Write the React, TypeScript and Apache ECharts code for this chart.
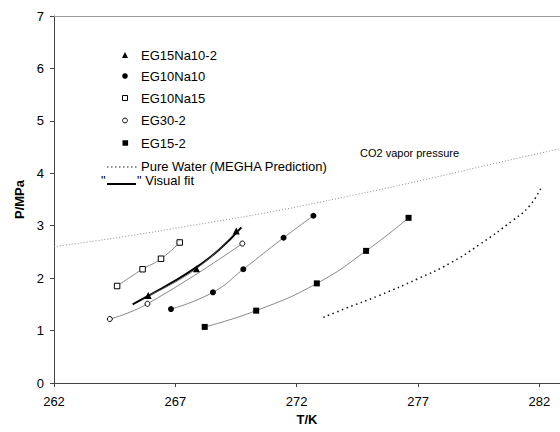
import React, { useEffect, useRef } from "react";
import * as echarts from "echarts";

// ---- data (T/K, P/MPa) ----
const eg15Na10_2: [number, number][] = [[265.88, 1.67], [267.87, 2.18], [269.51, 2.9]];
const eg10Na10: [number, number][] = [[266.82, 1.41], [268.55, 1.73], [269.8, 2.17], [271.46, 2.77], [272.69, 3.19]];
const eg10Na15: [number, number][] = [[264.6, 1.85], [265.65, 2.17], [266.41, 2.37], [267.18, 2.68]];
const eg30_2: [number, number][] = [[264.3, 1.22], [265.85, 1.51], [269.76, 2.66]];
const eg15_2: [number, number][] = [[268.21, 1.07], [270.33, 1.38], [272.83, 1.9], [274.86, 2.52], [276.61, 3.15]];
const pureWater: [number, number][] = [[273.1, 1.25], [274.0, 1.42], [275.4, 1.67], [277.0, 1.99], [278.3, 2.28], [279.5, 2.63], [280.9, 3.1], [281.6, 3.38], [282.1, 3.75]];
const co2Vapor: [number, number][] = [[262, 2.6], [265, 2.8], [268, 3.03], [271, 3.27], [274, 3.55], [277, 3.85], [280, 4.17], [282.85, 4.47]];
const visualFit: [number, number][] = [[265.24, 1.5], [265.88, 1.66], [266.8, 1.9], [267.87, 2.21], [268.8, 2.54], [269.72, 2.97]];

const legendNames = ["EG15Na10-2", "EG10Na10", "EG10Na15", "EG30-2", "EG15-2"];
const xMin = 262, xMax = 282.85, xStep = 5;
const yMin = 0, yMax = 7, yStep = 1;

const FONT = "Liberation Sans, Arial, sans-serif";

export default function App() {
  const ref = useRef<HTMLDivElement>(null);
  useEffect(() => {
    document.body.style.margin = "0";
    const chart = echarts.init(ref.current!, null, { renderer: "svg" });
    const dataLine = (name: string, data: [number, number][], symbol: string, size: number, open: boolean) => ({
      name,
      type: "line",
      data,
      smooth: true,
      symbol,
      symbolSize: size,
      lineStyle: { color: "#6a6a6a", width: 0.8 },
      itemStyle: open
        ? { color: "#fff", borderColor: "#000", borderWidth: 1 }
        : { color: "#000", borderColor: "#000", borderWidth: 0 },
      z: 5,
    });
    const legY = [55, 76, 98, 120.5, 143];
    const legendGraphic: any[] = [
      { type: "polygon", shape: { points: [[125, 52], [128, 58], [122, 58]] }, style: { fill: "#000" } },
      { type: "circle", shape: { cx: 125, cy: legY[1], r: 2.8 }, style: { fill: "#000" } },
      { type: "rect", shape: { x: 122.5, y: legY[2] - 2.5, width: 5, height: 5 }, style: { fill: "#fff", stroke: "#000", lineWidth: 1 } },
      { type: "circle", shape: { cx: 125, cy: legY[3], r: 2.4 }, style: { fill: "#fff", stroke: "#000", lineWidth: 1 } },
      { type: "rect", shape: { x: 122.5, y: legY[4] - 2.8, width: 5.6, height: 5.6 }, style: { fill: "#000" } },
      ...legendNames.map((n, i) => ({
        type: "text", x: 141, y: legY[i],
        style: { text: n, font: `13px ${FONT}`, fill: "#000", verticalAlign: "middle", align: "left" },
      })),
      { type: "line", shape: { x1: 107, y1: 167, x2: 139, y2: 167 }, style: { stroke: "#222", lineWidth: 1.2, lineDash: [1.5, 2.5] } },
      { type: "text", x: 141, y: 166.5, style: { text: "Pure Water (MEGHA Prediction)", font: `13px ${FONT}`, fill: "#000", verticalAlign: "middle" } },
      { type: "text", x: 101, y: 180, style: { text: "\"", font: `13px ${FONT}`, fill: "#000", verticalAlign: "middle" } },
      { type: "line", shape: { x1: 107, y1: 184, x2: 136, y2: 184 }, style: { stroke: "#000", lineWidth: 2 } },
      { type: "text", x: 137, y: 180, style: { text: "\" Visual fit", font: `13px ${FONT}`, fill: "#000", verticalAlign: "middle" } },
      { type: "text", x: 360, y: 153, style: { text: "CO2 vapor pressure", font: `11px ${FONT}`, fill: "#000", verticalAlign: "middle" } },
    ];
    chart.setOption({
      animation: false,
      backgroundColor: "#fff",
      grid: { left: 54, top: 16, right: 0, bottom: 49 },
      xAxis: [
        {
          type: "value", min: xMin, max: xMax, interval: xStep,
          name: "T/K", nameLocation: "middle", nameGap: 28,
          nameTextStyle: { fontFamily: FONT, fontSize: 13, fontWeight: "bold", color: "#000" },
          axisLine: { lineStyle: { color: "#444", width: 1 } },
          axisTick: { length: 4, lineStyle: { color: "#444" } },
          axisLabel: { fontFamily: FONT, fontSize: 13, color: "#000", margin: 12, showMaxLabel: false },
          splitLine: { show: false },
        },
        {
          type: "value", min: xMin, max: xMax, position: "top",
          axisLine: { show: true, lineStyle: { color: "#999", width: 1 } },
          axisTick: { show: false }, axisLabel: { show: false }, splitLine: { show: false },
        },
      ],
      yAxis: {
        type: "value", min: yMin, max: yMax, interval: yStep,
        name: "P/MPa", nameLocation: "middle", nameGap: 23,
        nameTextStyle: { fontFamily: FONT, fontSize: 13, fontWeight: "bold", color: "#000" },
        axisLine: { show: true, lineStyle: { color: "#444", width: 1 } },
        axisTick: { show: true, length: 4, lineStyle: { color: "#444" } },
        axisLabel: { fontFamily: FONT, fontSize: 13, color: "#000", margin: 10 },
        splitLine: { show: false },
      },
      series: [
        {
          name: "CO2 vapor pressure", type: "line", data: co2Vapor, smooth: true, showSymbol: false,
          lineStyle: { color: "#8a8a8a", width: 1, type: [1, 2] }, z: 2,
        },
        {
          name: "Pure Water (MEGHA Prediction)", type: "line", data: pureWater, smooth: true, showSymbol: false,
          lineStyle: { color: "#111", width: 1.5, type: [1.5, 3.5] }, z: 2,
        },
        {
          name: "Visual fit", type: "line", data: visualFit, smooth: true, showSymbol: false,
          lineStyle: { color: "#000", width: 2 }, z: 4,
        },
        dataLine(legendNames[0], eg15Na10_2, "triangle", 7, false),
        dataLine(legendNames[1], eg10Na10, "circle", 6, false),
        dataLine(legendNames[2], eg10Na15, "rect", 5.5, true),
        dataLine(legendNames[3], eg30_2, "circle", 5, true),
        dataLine(legendNames[4], eg15_2, "rect", 6, false),
      ],
      graphic: legendGraphic,
    });
    return () => chart.dispose();
  }, []);
  return <div ref={ref} style={{ width: 560, height: 432 }} />;
}
